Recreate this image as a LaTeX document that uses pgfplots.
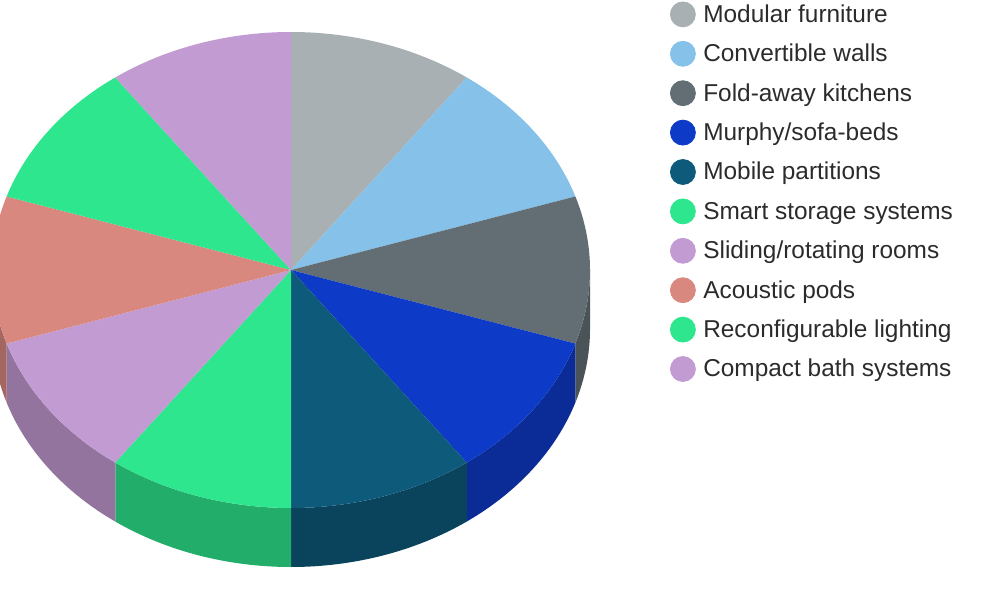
\documentclass[border=0pt]{standalone}
\usepackage{pgfplots}
\usepackage{pgfplotstable}
\usepackage{fontspec}
\setmainfont{Liberation Sans}
\pgfplotsset{compat=1.18}

% top face / side wall colours
\definecolor{t1}{HTML}{A9B0B4}\definecolor{s1}{HTML}{7F8487}
\definecolor{t2}{HTML}{85C1E9}\definecolor{s2}{HTML}{6491AF}
\definecolor{t3}{HTML}{626E74}\definecolor{s3}{HTML}{4A5357}
\definecolor{t4}{HTML}{0E3AC8}\definecolor{s4}{HTML}{0B2B96}
\definecolor{t5}{HTML}{0E5A7A}\definecolor{s5}{HTML}{0A445C}
\definecolor{t6}{HTML}{2EE68E}\definecolor{s6}{HTML}{22AD6A}
\definecolor{t7}{HTML}{C39BD3}\definecolor{s7}{HTML}{92749E}
\definecolor{t8}{HTML}{D98880}\definecolor{s8}{HTML}{A36660}
\definecolor{t9}{HTML}{2EE68E}\definecolor{s9}{HTML}{22AD6A}
\definecolor{t10}{HTML}{C39BD3}\definecolor{s10}{HTML}{92749E}
\definecolor{legtext}{HTML}{2B2B2B}

\pgfplotstableread[col sep=comma]{
label,value,top,side
Modular furniture,10,t1,s1
Convertible walls,10,t2,s2
Fold-away kitchens,10,t3,s3
Murphy/sofa-beds,10,t4,s4
Mobile partitions,10,t5,s5
Smart storage systems,10,t6,s6
Sliding/rotating rooms,10,t7,s7
Acoustic pods,10,t8,s8
Reconfigurable lighting,10,t9,s9
Compact bath systems,10,t10,s10
}\piedata

% pie centre in axis units (1 unit = 0.5pt); radii 149.5pt x 119pt, depth 29.5pt
\def\cx{291}\def\cy{330}

\begin{document}
\begin{tikzpicture}
\begin{axis}[
    width=500pt, height=300pt, scale only axis,
    xmin=0, xmax=1000, ymin=0, ymax=600,
    hide axis, clip=true, clip bounding box=upper bound,
    legend image code/.code={\fill[#1] (6.25pt,1pt) circle[radius=6.25pt];
        \path (16.25pt,1pt);},
    legend cell align=left,
    legend style={at={(axis description cs:0.67,1)}, anchor=north west, yshift=-0.75pt,
        draw=none, fill=none, inner sep=0pt, outer sep=0pt,
        font=\fontsize{12.2}{14}\selectfont, text=legtext,
        row sep=6.25pt, column sep=0pt,
        nodes={inner sep=0pt, text height=9pt, text depth=3pt}},
]
\path (rel axis cs:0,0) rectangle (rel axis cs:1,1);

\pgfplotstablegetrowsof{\piedata}
\pgfmathtruncatemacro\lastrow{\pgfplotsretval-1}
\def\total{0}
\pgfplotsforeachungrouped \i in {0,...,\lastrow}{%
    \pgfplotstablegetelem{\i}{value}\of\piedata
    \pgfmathsetmacro\total{\total+\pgfplotsretval}%
}

% side walls (front half only)
\def\angA{90}
\pgfplotsforeachungrouped \i in {0,...,\lastrow}{%
    \pgfplotstablegetelem{\i}{value}\of\piedata
    \pgfmathsetmacro\angB{\angA-360*\pgfplotsretval/\total}%
    \pgfplotstablegetelem{\i}{side}\of\piedata \let\sc\pgfplotsretval
    \pgfmathsetmacro\hi{min(\angA,0)}%
    \pgfmathsetmacro\lo{max(\angB,-180)}%
    \pgfmathtruncatemacro\vis{\hi>\lo}%
    \ifnum\vis=1
        \edef\cmd{\noexpand\fill[\sc] (axis cs:\cx,\cy) ++(\hi:149.5pt and 119pt)
            arc[start angle=\hi, end angle=\lo, x radius=149.5pt, y radius=119pt]
            -- ++(0pt,-29.5pt)
            arc[start angle=\lo, end angle=\hi, x radius=149.5pt, y radius=119pt] -- cycle;}%
        \cmd
    \fi
    \let\angA\angB
}

% top faces + legend
\def\angA{90}
\pgfplotsforeachungrouped \i in {0,...,\lastrow}{%
    \pgfplotstablegetelem{\i}{value}\of\piedata
    \pgfmathsetmacro\angB{\angA-360*\pgfplotsretval/\total}%
    \pgfplotstablegetelem{\i}{top}\of\piedata \let\tc\pgfplotsretval
    \pgfplotstablegetelem{\i}{label}\of\piedata \let\lb\pgfplotsretval
    \edef\cmd{\noexpand\fill[\tc] (axis cs:\cx,\cy) -- ++(\angA:149.5pt and 119pt)
        arc[start angle=\angA, end angle=\angB, x radius=149.5pt, y radius=119pt] -- cycle;
        \noexpand\addlegendimage{\tc}\noexpand\addlegendentry{\lb}}%
    \cmd
    \let\angA\angB
}
\end{axis}
\end{tikzpicture}
\end{document}
